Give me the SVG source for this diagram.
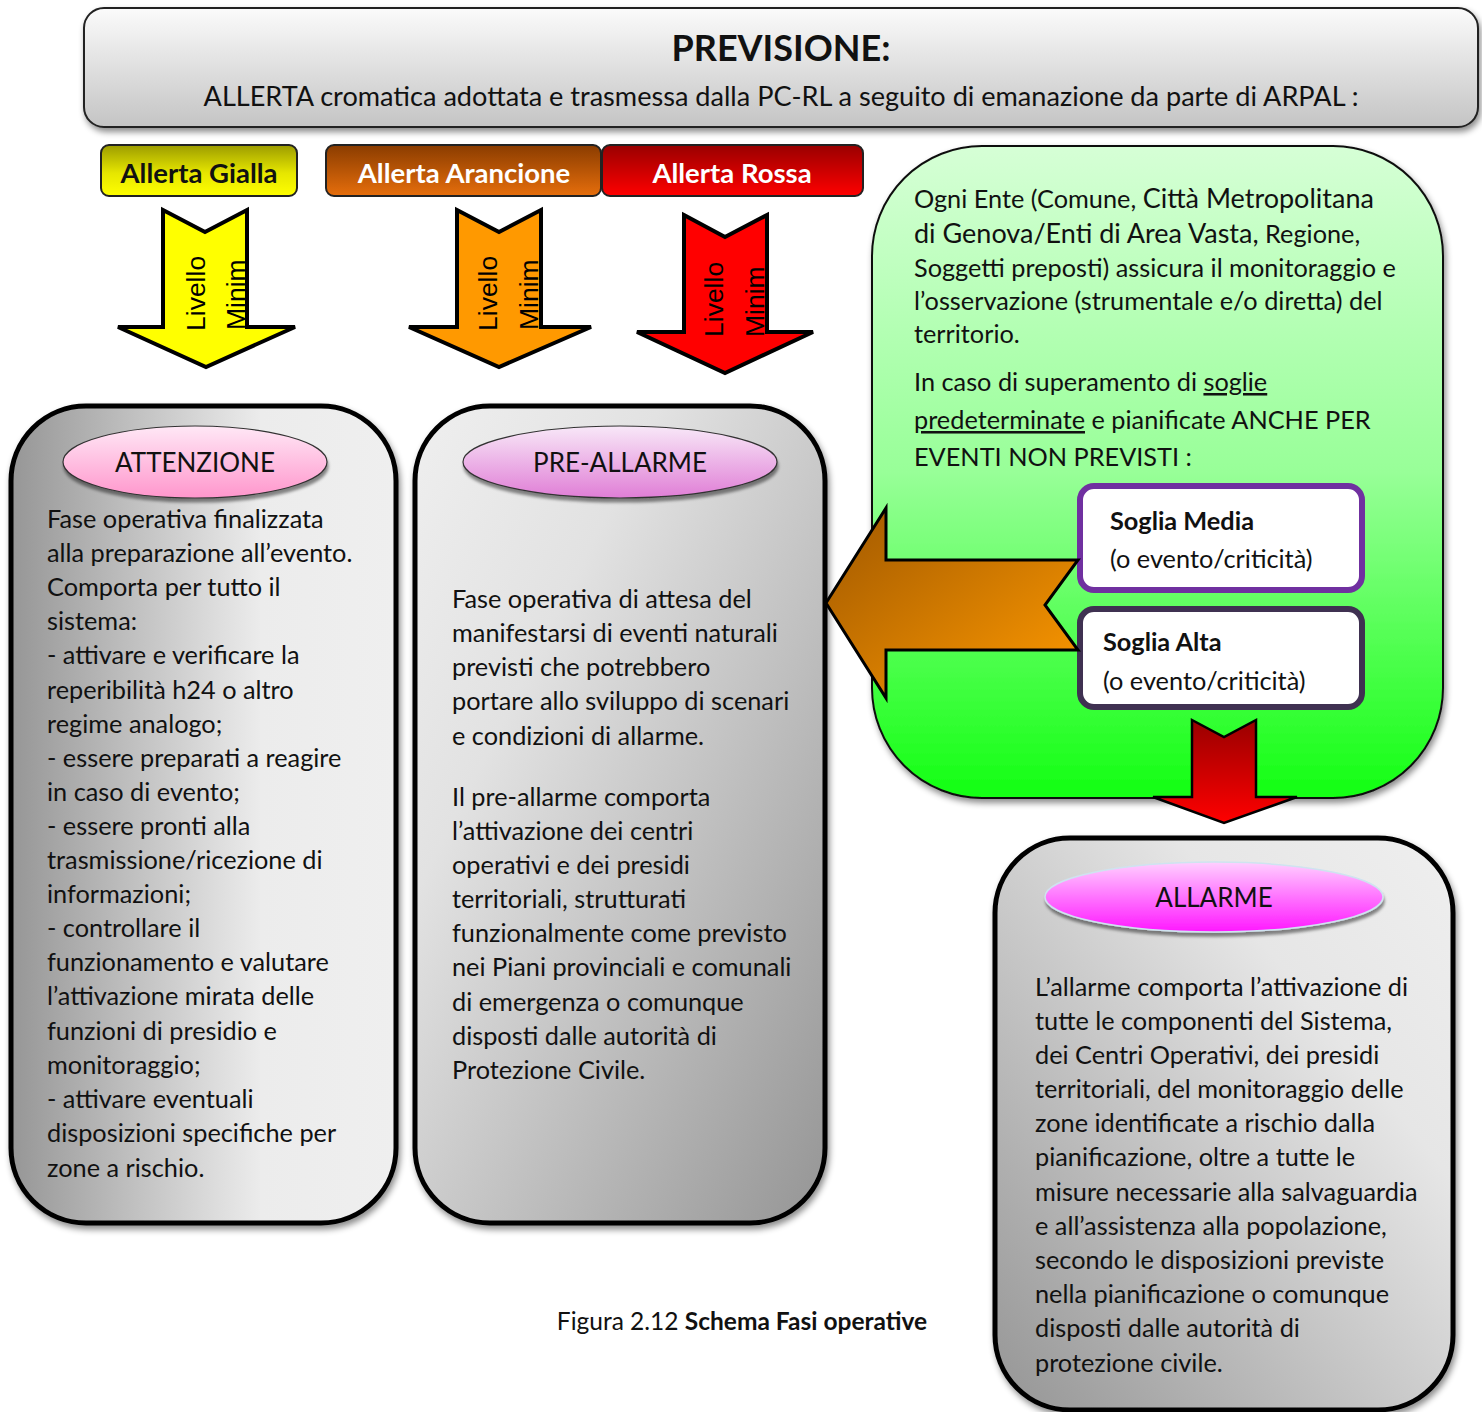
<svg xmlns="http://www.w3.org/2000/svg" width="1482" height="1412" viewBox="0 0 1482 1412">
<defs>
<style>
text{font-family:Lato,"Liberation Sans",sans-serif;fill:#111}
.body{font-size:25.3px}
.b{font-weight:bold}
.lab{font-size:27.5px;font-weight:bold;text-anchor:middle}
.ell{font-size:26px;text-anchor:middle}
.rot{font-family:"Liberation Sans",Arial,sans-serif;font-size:26.5px;fill:#000}
.arrow{stroke:#000;stroke-width:4;stroke-linejoin:miter}
.phase{stroke:#000;stroke-width:5}
</style>
<filter id="sh" x="-10%" y="-10%" width="125%" height="125%"><feDropShadow dx="2" dy="4" stdDeviation="3" flood-color="#000" flood-opacity="0.45"/></filter>
<filter id="shs" x="-10%" y="-20%" width="125%" height="150%"><feDropShadow dx="1" dy="4" stdDeviation="1.5" flood-color="#000" flood-opacity="0.45"/></filter>
<linearGradient id="gBanner" x1="0" y1="0" x2="0" y2="1"><stop offset="0" stop-color="#fbfbfb"/><stop offset="1" stop-color="#c4c4c4"/></linearGradient>
<linearGradient id="gYel" x1="0" y1="0" x2="0" y2="1"><stop offset="0" stop-color="#9c9c00"/><stop offset="0.55" stop-color="#e6e600"/><stop offset="1" stop-color="#ffff00"/></linearGradient>
<linearGradient id="gOra" x1="0" y1="0" x2="0" y2="1"><stop offset="0" stop-color="#8a3c00"/><stop offset="1" stop-color="#e66e0c"/></linearGradient>
<linearGradient id="gRed" x1="0" y1="0" x2="0" y2="1"><stop offset="0" stop-color="#990000"/><stop offset="1" stop-color="#ff0000"/></linearGradient>
<linearGradient id="gLeft" x1="0" y1="0" x2="1" y2="0"><stop offset="0" stop-color="#969696"/><stop offset="0.65" stop-color="#ececec"/><stop offset="1" stop-color="#efefef"/></linearGradient>
<linearGradient id="gMid" x1="0" y1="0" x2="1" y2="1"><stop offset="0" stop-color="#efefef"/><stop offset="0.3" stop-color="#e2e2e2"/><stop offset="1" stop-color="#959595"/></linearGradient>
<linearGradient id="gAll" x1="0" y1="1" x2="1" y2="0"><stop offset="0" stop-color="#959595"/><stop offset="0.7" stop-color="#e6e6e6"/><stop offset="1" stop-color="#efefef"/></linearGradient>
<linearGradient id="gGreen" x1="0" y1="0" x2="0" y2="1"><stop offset="0" stop-color="#d6ffd6"/><stop offset="0.5" stop-color="#98ff98"/><stop offset="1" stop-color="#12ff12"/></linearGradient>
<linearGradient id="gBig" x1="0" y1="0" x2="1" y2="1"><stop offset="0" stop-color="#a05800"/><stop offset="1" stop-color="#ff9a00"/></linearGradient>
<linearGradient id="gDown" x1="0" y1="0" x2="0" y2="1"><stop offset="0" stop-color="#990000"/><stop offset="1" stop-color="#ff0000"/></linearGradient>
<linearGradient id="gE1" x1="0" y1="0" x2="0" y2="1"><stop offset="0" stop-color="#ffe8f6"/><stop offset="1" stop-color="#ff96cc"/></linearGradient>
<linearGradient id="gE2" x1="0" y1="0" x2="0" y2="1"><stop offset="0" stop-color="#f8e8f8"/><stop offset="1" stop-color="#e07ed6"/></linearGradient>
<linearGradient id="gE3" x1="0" y1="0" x2="0" y2="1"><stop offset="0" stop-color="#ffd0ff"/><stop offset="1" stop-color="#ff18ff"/></linearGradient>
<clipPath id="cY"><rect x="163" y="200" width="82" height="130"/></clipPath>
<clipPath id="cO"><rect x="457" y="200" width="82" height="130"/></clipPath>
<clipPath id="cR"><rect x="684" y="205" width="81" height="130"/></clipPath>
</defs>
<rect width="1482" height="1412" fill="#fff"/>

<g id="banner">
<rect x="84" y="8" width="1394" height="119" rx="20" fill="url(#gBanner)" stroke="#222" stroke-width="2" filter="url(#sh)"/>
<text x="781" y="61" class="b" style="font-size:36px" text-anchor="middle">PREVISIONE:</text>
<text x="781" y="106" style="font-size:27.1px" text-anchor="middle">ALLERTA cromatica adottata e trasmessa dalla PC-RL a seguito di emanazione da parte di ARPAL :</text>
</g>

<g id="allerta-gialla">
<rect x="101" y="145" width="196" height="51" rx="8" fill="url(#gYel)" stroke="#222" stroke-width="2"/>
<text x="199" y="183" class="lab">Allerta Gialla</text>
</g>
<g id="allerta-arancione">
<rect x="326" y="145" width="275" height="51" rx="8" fill="url(#gOra)" stroke="#222" stroke-width="2"/>
<text x="464" y="183" class="lab" style="fill:#fff">Allerta Arancione</text>
</g>
<g id="allerta-rossa">
<rect x="602" y="145" width="261" height="51" rx="8" fill="url(#gRed)" stroke="#222" stroke-width="2"/>
<text x="732" y="183" class="lab" style="fill:#fff">Allerta Rossa</text>
</g>

<g id="green-monitoraggio">
<rect x="872" y="146" width="571" height="652" rx="110" fill="url(#gGreen)" stroke="#111" stroke-width="2" filter="url(#sh)"/>
<text x="914" y="208" class="body">Ogni Ente (Comune, <tspan style="font-size:27px">Città Metropolitana</tspan></text>
<text x="914" y="243" class="body"><tspan style="font-size:27px">di Genova/Enti di Area Vasta,</tspan> Regione,</text>
<text x="914" y="277" class="body">Soggetti preposti) assicura il monitoraggio e</text>
<text x="914" y="310" class="body">l’osservazione (strumentale e/o diretta) del</text>
<text x="914" y="343" class="body">territorio.</text>
<text x="914" y="391" class="body">In caso di superamento di <tspan text-decoration="underline">soglie</tspan></text>
<text x="914" y="429" class="body"><tspan text-decoration="underline">predeterminate</tspan> e pianificate ANCHE PER</text>
<text x="914" y="466" class="body">EVENTI NON PREVISTI :</text>
</g>

<g id="soglia-media">
<rect x="1080" y="486" width="282" height="104" rx="14" fill="#fff" stroke="#7030a0" stroke-width="6"/>
<text x="1110" y="530" class="body b">Soglia Media</text>
<text x="1110" y="568" class="body">(o evento/criticità)</text>
</g>
<g id="soglia-alta">
<rect x="1080" y="609" width="282" height="98" rx="14" fill="#fff" stroke="#3f3151" stroke-width="6"/>
<text x="1103" y="651" class="body b">Soglia Alta</text>
<text x="1103" y="690" class="body">(o evento/criticità)</text>
</g>

<g id="attenzione">
<rect x="11" y="406" width="385" height="817" rx="75" fill="url(#gLeft)" class="phase" filter="url(#sh)"/>
<ellipse cx="195" cy="462" rx="132" ry="36" fill="url(#gE1)" stroke="#333" stroke-width="1.2" filter="url(#shs)"/>
<text x="195" y="472" class="ell">ATTENZIONE</text>
<g class="body">
<text x="47" y="528">Fase operativa finalizzata</text>
<text x="47" y="562">alla preparazione all’evento.</text>
<text x="47" y="596">Comporta per tutto il</text>
<text x="47" y="630">sistema:</text>
<text x="47" y="664">- attivare e verificare la</text>
<text x="47" y="699">reperibilità h24 o altro</text>
<text x="47" y="733">regime analogo;</text>
<text x="47" y="767">- essere preparati a reagire</text>
<text x="47" y="801">in caso di evento;</text>
<text x="47" y="835">- essere pronti alla</text>
<text x="47" y="869">trasmissione/ricezione di</text>
<text x="47" y="903">informazioni;</text>
<text x="47" y="937">- controllare il</text>
<text x="47" y="971">funzionamento e valutare</text>
<text x="47" y="1005">l’attivazione mirata delle</text>
<text x="47" y="1040">funzioni di presidio e</text>
<text x="47" y="1074">monitoraggio;</text>
<text x="47" y="1108">- attivare eventuali</text>
<text x="47" y="1142">disposizioni specifiche per</text>
<text x="47" y="1177">zone a rischio.</text>
</g>
</g>

<g id="pre-allarme">
<rect x="415" y="406" width="410" height="817" rx="75" fill="url(#gMid)" class="phase" filter="url(#sh)"/>
<ellipse cx="620" cy="462" rx="157" ry="36" fill="url(#gE2)" stroke="#333" stroke-width="1.2" filter="url(#shs)"/>
<text x="620" y="472" class="ell">PRE-ALLARME</text>
<g class="body">
<text x="452" y="608">Fase operativa di attesa del</text>
<text x="452" y="642">manifestarsi di eventi naturali</text>
<text x="452" y="676">previsti che potrebbero</text>
<text x="452" y="710">portare allo sviluppo di scenari</text>
<text x="452" y="745">e condizioni di allarme.</text>
<text x="452" y="806">Il pre-allarme comporta</text>
<text x="452" y="840">l’attivazione dei centri</text>
<text x="452" y="874">operativi e dei presidi</text>
<text x="452" y="908">territoriali, strutturati</text>
<text x="452" y="942">funzionalmente come previsto</text>
<text x="452" y="976">nei Piani provinciali e comunali</text>
<text x="452" y="1011">di emergenza o comunque</text>
<text x="452" y="1045">disposti dalle autorità di</text>
<text x="452" y="1079">Protezione Civile.</text>
</g>
</g>

<g id="allarme">
<rect x="995" y="838" width="458" height="572" rx="75" fill="url(#gAll)" class="phase" filter="url(#sh)"/>
<ellipse cx="1214" cy="897" rx="169" ry="35" fill="url(#gE3)" stroke="#cfe3f0" stroke-width="1.5" filter="url(#shs)"/>
<text x="1214" y="907" class="ell">ALLARME</text>
<g class="body">
<text x="1035" y="996">L’allarme comporta l’attivazione di</text>
<text x="1035" y="1030">tutte le componenti del Sistema,</text>
<text x="1035" y="1064">dei Centri Operativi, dei presidi</text>
<text x="1035" y="1098">territoriali, del monitoraggio delle</text>
<text x="1035" y="1132">zone identificate a rischio dalla</text>
<text x="1035" y="1166">pianificazione, oltre a tutte le</text>
<text x="1035" y="1201">misure necessarie alla salvaguardia</text>
<text x="1035" y="1235">e all’assistenza alla popolazione,</text>
<text x="1035" y="1269">secondo le disposizioni previste</text>
<text x="1035" y="1303">nella pianificazione o comunque</text>
<text x="1035" y="1337">disposti dalle autorità di</text>
<text x="1035" y="1372">protezione civile.</text>
</g>
</g>

<g id="connectors">
<g id="arrow-gialla">
<path d="M163,210 L205,232 L247,210 L247,327 L295,327 L206,367 L118,327 L163,327 Z" fill="#ffff00" class="arrow"/>
<g clip-path="url(#cY)">
<text class="rot" transform="translate(205,331) rotate(-90)">Livello</text>
<text class="rot" transform="translate(245,330) rotate(-90)">Minim</text>
</g>
</g>
<g id="arrow-arancione">
<path d="M457,210 L499,232 L541,210 L541,327 L591,327 L499,367 L409,327 L457,327 Z" fill="#ff9900" class="arrow"/>
<g clip-path="url(#cO)">
<text class="rot" transform="translate(497,331) rotate(-90)">Livello</text>
<text class="rot" transform="translate(538,330) rotate(-90)">Minim</text>
</g>
</g>
<g id="arrow-rossa">
<path d="M684,215 L725,237 L767,215 L767,332 L813,332 L725,373 L637,332 L684,332 Z" fill="#ff0000" class="arrow"/>
<g clip-path="url(#cR)">
<text class="rot" transform="translate(723,337) rotate(-90)">Livello</text>
<text class="rot" transform="translate(764,337) rotate(-90)">Minim</text>
</g>
</g>
<path id="arrow-soglia-media" d="M826,603 L886,508 L886,560 L1078,560 L1045,605 L1078,650 L886,650 L886,698 Z" fill="url(#gBig)" stroke="#000" stroke-width="3" stroke-linejoin="miter"/>
<path id="arrow-soglia-alta" d="M1192,720 L1224,737 L1256,720 L1256,797 L1297,797 L1224,823 L1153,797 L1192,797 Z" fill="url(#gDown)" stroke="#000" stroke-width="2.5"/>
</g>

<text x="742" y="1330" style="font-size:24.5px" text-anchor="middle">Figura 2.12 <tspan class="b">Schema Fasi operative</tspan></text>
</svg>
